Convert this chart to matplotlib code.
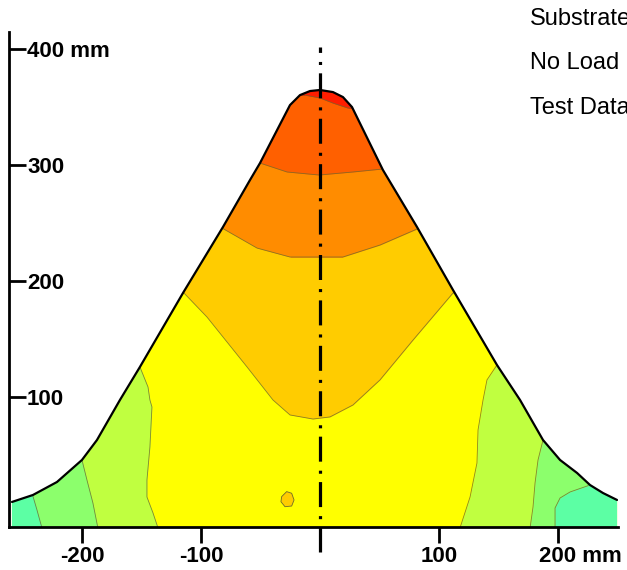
import numpy as np
import matplotlib.pyplot as plt
from matplotlib.patches import Polygon
from matplotlib.transforms import ScaledTranslation

plt.rcParams['font.family'] = ['Liberation Sans', 'DejaVu Sans']
plt.rcParams['lines.scale_dashes'] = False

# outer profile of the heap (mm)
prof_x = [-258.8, -241.2, -221.0, -200.0, -187.4, -168.1, -151.3, -115.1, -81.5, -58.8,
          -50.4, -25.2, -16.8, -8.4, 0.0, 10.9, 19.3, 26.9, 52.9, 81.5,
          111.8, 148.7, 168.1, 187.4, 201.7, 216.0, 226.9, 237.8, 249.6]
prof_y = [9.5, 15.5, 26.7, 45.7, 62.9, 97.4, 125.9, 189.7, 246.6, 287.1,
          301.7, 351.7, 360.3, 363.8, 364.7, 362.9, 358.6, 350.0, 295.7, 246.6,
          192.2, 127.6, 97.4, 62.9, 45.7, 34.5, 24.1, 17.2, 11.2]
base_y = -12.5

# upper bands (region above each curve)
red_x = [-40, -12.6, 0.0, 10.9, 23.5, 50]
red_y = [360.3, 360.3, 357.8, 353.4, 349.1, 349.1]
dorange_x = [-80, -50.4, -27.7, -0.8, 27.7, 52.9, 80]
dorange_y = [301.7, 301.7, 294.0, 291.4, 294.0, 296.6, 296.6]
orange_x = [-110, -82.4, -52.9, -25.2, -0.8, 19.3, 50.4, 81.5, 110]
orange_y = [245.7, 245.7, 228.4, 220.7, 220.7, 220.7, 231.0, 244.8, 244.8]
amber_x = [-140, -115.1, -95.0, -61.3, -39.5, -25.2, -5.9, 8.4, 27.7, 50.4, 78.2, 111.8, 140]
amber_y = [190.5, 190.5, 169.0, 125.9, 97.4, 84.5, 81.0, 82.8, 93.1, 114.7, 149.1, 189.7, 189.7]

# side bands (outside each curve)
lime_l_x = [-153.0, -151.3, -144.5, -142.9, -141.2, -142.9, -145.4, -145.4, -140.3, -136.1]
lime_l_y = [135.0, 125.9, 108.6, 97.4, 91.4, 56.9, 28.4, 13.8, 0.0, -13.0]
lime_r_x = [150.0, 148.7, 140.3, 137.0, 132.8, 131.9, 126.1, 117.6]
lime_r_y = [135.0, 127.6, 114.7, 97.4, 71.6, 43.1, 13.8, -13.0]
green_l_x = [-201.0, -200.0, -195.8, -190.8, -186.6]
green_l_y = [55.0, 45.7, 28.4, 8.6, -13.0]
green_r_x = [189.0, 187.4, 183.2, 180.7, 179.0, 176.5]
green_r_y = [70.0, 62.9, 45.7, 25.9, 5.2, -13.0]
teal_l_x = [-242.0, -241.2, -237.8, -233.6]
teal_l_y = [22.0, 14.5, 2.6, -13.0]
teal_r_x = [228.0, 225.2, 210.1, 201.7, 197.5, 197.5]
teal_r_y = [32.0, 23.5, 18.1, 12.9, 4.3, -13.0]

# small amber spot
spot_x = [-32.2, -28.0, -23.8, -21.8, -23.8, -29.4, -32.8]
spot_y = [14.1, 18.4, 17.0, 11.2, 6.0, 5.4, 9.7]

c_red = '#ff1e00'
c_dorange = '#ff6000'
c_orange = '#ff8c00'
c_amber = '#ffcc00'
c_yellow = '#ffff00'
c_lime = '#c0ff40'
c_green = '#8cff6c'
c_teal = '#5cffa4'
c_edge = '#6e6a2a'

fig = plt.figure(figsize=(6.27, 5.70), dpi=100)
ax = fig.add_axes([9 / 627, 43 / 570, 609 / 627, 495 / 570])
ax.set_xlim(-261.3, 250.4)
ax.set_ylim(-12.1, 414.7)

outline = list(zip(prof_x, prof_y)) + [(prof_x[-1], base_y), (prof_x[0], base_y)]
clip = Polygon(outline, closed=True, transform=ax.transData, facecolor=c_yellow,
               edgecolor='none', zorder=1)
ax.add_patch(clip)

for bx, by, col in [(amber_x, amber_y, c_amber), (orange_x, orange_y, c_orange),
                    (dorange_x, dorange_y, c_dorange), (red_x, red_y, c_red)]:
    f = ax.fill_between(bx, by, 420, color=col, lw=0, zorder=2)
    f.set_clip_path(clip)
    ln, = ax.plot(bx, by, color=c_edge, lw=0.6, alpha=0.8, zorder=3)
    ln.set_clip_path(clip)

for bx, by, col, side in [(lime_l_x, lime_l_y, c_lime, -300), (green_l_x, green_l_y, c_green, -300),
                          (teal_l_x, teal_l_y, c_teal, -300), (lime_r_x, lime_r_y, c_lime, 300),
                          (green_r_x, green_r_y, c_green, 300), (teal_r_x, teal_r_y, c_teal, 300)]:
    f = ax.fill_betweenx(by, side, bx, color=col, lw=0, zorder=2)
    f.set_clip_path(clip)
    ln, = ax.plot(bx, by, color=c_edge, lw=0.6, alpha=0.8, zorder=3)
    ln.set_clip_path(clip)

ax.add_patch(Polygon(list(zip(spot_x, spot_y)), closed=True, facecolor=c_amber,
                     edgecolor=c_edge, lw=0.6, zorder=3))

ax.plot(prof_x, prof_y, color='black', lw=1.6, zorder=4, solid_capstyle='round',
        solid_joinstyle='round')

# centre line
ax.plot([0, 0], [-33.6, 401.7], color='black', lw=2.3, dashes=(18, 6, 2.2, 6.5),
        zorder=5, clip_on=False)

for s in ['top', 'right']:
    ax.spines[s].set_visible(False)
for s in ['left', 'bottom']:
    ax.spines[s].set_linewidth(2.0)
    ax.spines[s].set_zorder(6)

ax.set_yticks([100, 200, 300, 400], ['100', '200', '300', '400 mm'])
ax.tick_params(axis='y', direction='in', length=12, width=2, pad=-13, labelsize=16)
for lab in ax.get_yticklabels():
    lab.set_horizontalalignment('left')
    lab.set_fontweight('bold')

ax.set_xticks([-200, -100, 0, 100, 200], ['-200', '-100', '', '100', '200 mm'])
ax.tick_params(axis='x', direction='out', length=11.5, width=2, pad=2, labelsize=16)
for lab in ax.get_xticklabels():
    lab.set_fontweight('bold')
last = ax.get_xticklabels()[-1]
last.set_horizontalalignment('left')
last.set_transform(last.get_transform() + ScaledTranslation(-13.5 / 72, 0, fig.dpi_scale_trans))

fig.text(530 / 627, 1 - 19 / 570, 'Substrate', fontsize=17, va='center')
fig.text(530 / 627, 1 - 63 / 570, 'No Load', fontsize=17, va='center')
fig.text(530 / 627, 1 - 108 / 570, 'Test Data', fontsize=17, va='center')

fig.savefig('out.png', dpi=100)
